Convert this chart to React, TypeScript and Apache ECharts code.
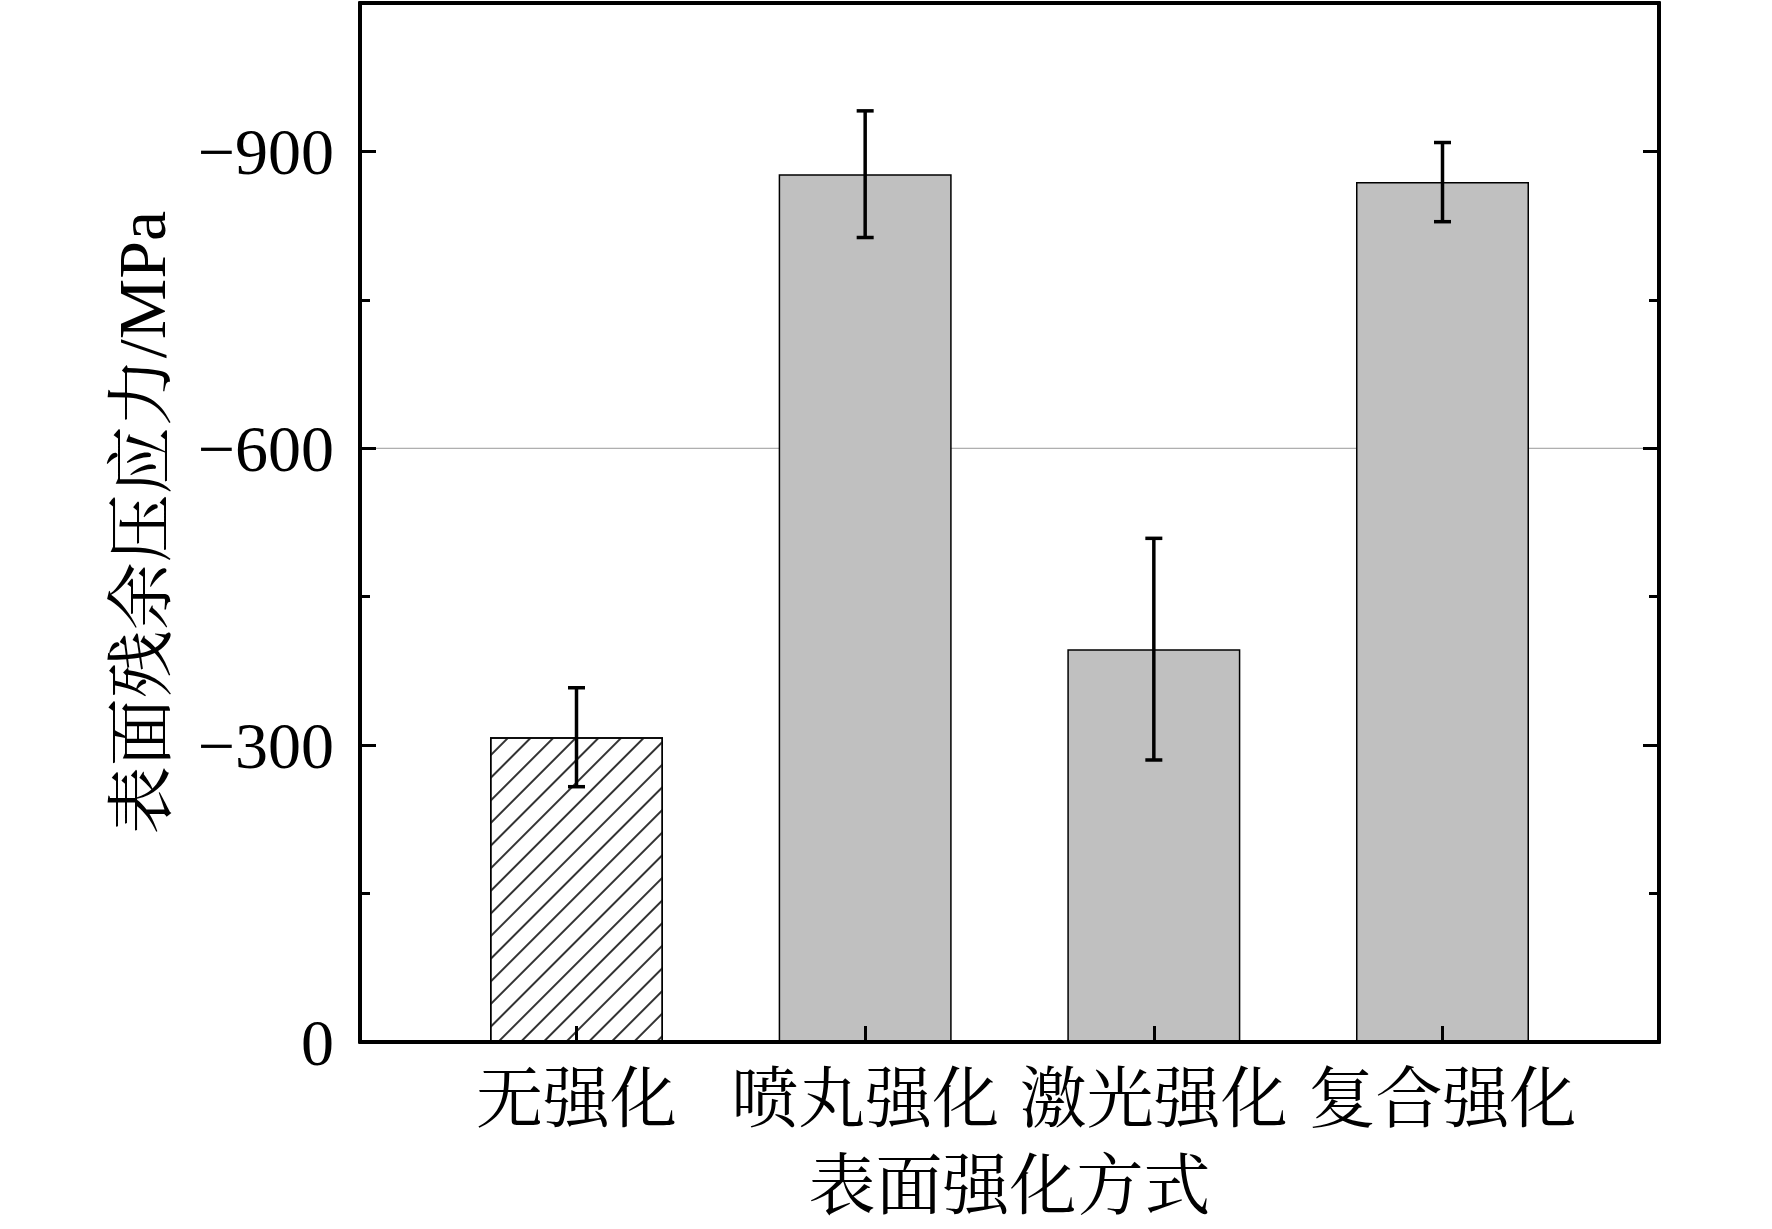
import React, { useEffect, useRef } from 'react';
import * as echarts from 'echarts';

const categories = ['无强化', '喷丸强化', '激光强化', '复合强化'];
const positions = [1, 2, 3, 4];
const stress = [-308, -877, -397, -869];
const errors = [50, 64, 112, 40];
const majorTicks = [-900, -600, -300, 0];
const minorTicks = [-750, -450, -150];
const gridLineValue = -600;
const yMin = -1050;
const yMax = 0;
const xMin = 0.25;
const xMax = 4.75;

const SERIF = '"Times New Roman", "Liberation Serif", "Noto Serif CJK SC", "Noto Sans CJK SC", serif';

function makeY(position: string, ticks: number[], len: number, withLabels: boolean, extra: any = {}) {
  return {
    type: 'value',
    position,
    min: yMin,
    max: yMax,
    inverse: true,
    z: 10,
    axisLine: { show: true, onZero: false, lineStyle: { color: '#000', width: 4 } },
    axisTick: {
      show: true,
      inside: true,
      length: len,
      customValues: ticks,
      lineStyle: { color: '#000', width: 3 },
    },
    axisLabel: withLabels
      ? {
          show: true,
          customValues: ticks,
          margin: 26,
          fontSize: 66,
          fontFamily: SERIF,
          color: '#000',
          formatter: (v: number) => (v === 0 ? '0' : '\u2212' + Math.abs(v)),
        }
      : { show: false },
    splitLine: { show: false },
    ...extra,
  };
}

export default function App() {
  const ref = useRef<HTMLDivElement>(null);
  useEffect(() => {
    if (!ref.current) return;
    const chart = echarts.init(ref.current, undefined, { renderer: 'svg' });
    const barData = stress.map((v, i) => {
      const item: any = { value: [positions[i], v] };
      if (i === 0) {
        item.itemStyle = {
          color: '#ffffff',
          borderColor: '#000',
          borderWidth: 1.5,
          decal: {
            symbol: 'rect',
            symbolSize: 1,
            dashArrayX: [1, 0],
            dashArrayY: [1.3, 13.2],
            rotation: -Math.PI / 4,
            color: '#333',
            backgroundColor: '#ffffff',
          },
        };
      }
      return item;
    });
    const errData = stress.map((v, i) => [positions[i], v, errors[i]]);
    chart.setOption({
      animation: false,
      backgroundColor: '#ffffff',
      grid: { left: 360, right: 113, top: 3, bottom: 187, containLabel: false },
      xAxis: [
        {
          type: 'value',
          position: 'bottom',
          min: xMin,
          max: xMax,
          z: 10,
          name: '表面强化方式',
          nameLocation: 'middle',
          nameGap: 110,
          nameTextStyle: { fontSize: 67, fontFamily: SERIF, color: '#000' },
          axisLine: { show: true, onZero: false, lineStyle: { color: '#000', width: 4 } },
          axisTick: {
            show: true,
            inside: true,
            length: 16,
            customValues: positions,
            lineStyle: { color: '#000', width: 3 },
          },
          axisLabel: {
            show: true,
            customValues: positions,
            margin: 23,
            fontSize: 67,
            fontFamily: SERIF,
            color: '#000',
            formatter: (v: number) => categories[Math.round(v) - 1] ?? '',
          },
          splitLine: { show: false },
        },
        {
          type: 'value',
          position: 'top',
          min: xMin,
          max: xMax,
          z: 10,
          axisLine: { show: true, onZero: false, lineStyle: { color: '#000', width: 4 } },
          axisTick: { show: false },
          axisLabel: { show: false },
          splitLine: { show: false },
        },
      ],
      yAxis: [
        makeY('left', majorTicks, 16, true, {
          name: '表面残余压应力/MPa',
          nameLocation: 'middle',
          nameGap: 184,
          nameRotate: 90,
          nameTextStyle: { fontSize: 68, fontFamily: SERIF, color: '#000' },
        }),
        makeY('left', minorTicks, 10, false),
        makeY('right', majorTicks, 16, false),
        makeY('right', minorTicks, 10, false),
      ],
      series: [
        {
          type: 'line',
          xAxisIndex: 0,
          yAxisIndex: 0,
          data: [
            [xMin, gridLineValue],
            [xMax, gridLineValue],
          ],
          symbol: 'none',
          silent: true,
          z: 1,
          lineStyle: { color: '#999', width: 1 },
        },
        {
          type: 'bar',
          xAxisIndex: 0,
          yAxisIndex: 0,
          barWidth: 173,
          z: 2,
          data: barData,
          itemStyle: { color: '#c0c0c0', borderColor: '#000', borderWidth: 1.5 },
        },
        {
          type: 'custom',
          xAxisIndex: 0,
          yAxisIndex: 0,
          z: 3,
          data: errData,
          encode: { x: 0, y: 1 },
          renderItem: (params: any, api: any) => {
            const x = api.value(0);
            const v = api.value(1);
            const e = api.value(2);
            const top = api.coord([x, v - e]);
            const bot = api.coord([x, v + e]);
            const cap = 8.5;
            const style = { stroke: '#000', lineWidth: 3.5 };
            return {
              type: 'group',
              children: [
                { type: 'line', shape: { x1: top[0], y1: top[1], x2: bot[0], y2: bot[1] }, style },
                { type: 'line', shape: { x1: top[0] - cap, y1: top[1], x2: top[0] + cap, y2: top[1] }, style },
                { type: 'line', shape: { x1: bot[0] - cap, y1: bot[1], x2: bot[0] + cap, y2: bot[1] }, style },
              ],
            };
          },
        },
      ],
    });
    return () => chart.dispose();
  }, []);
  return (
    <div
      ref={ref}
      style={{ position: 'absolute', left: 0, top: 0, width: 1772, height: 1229, background: '#fff' }}
    />
  );
}
